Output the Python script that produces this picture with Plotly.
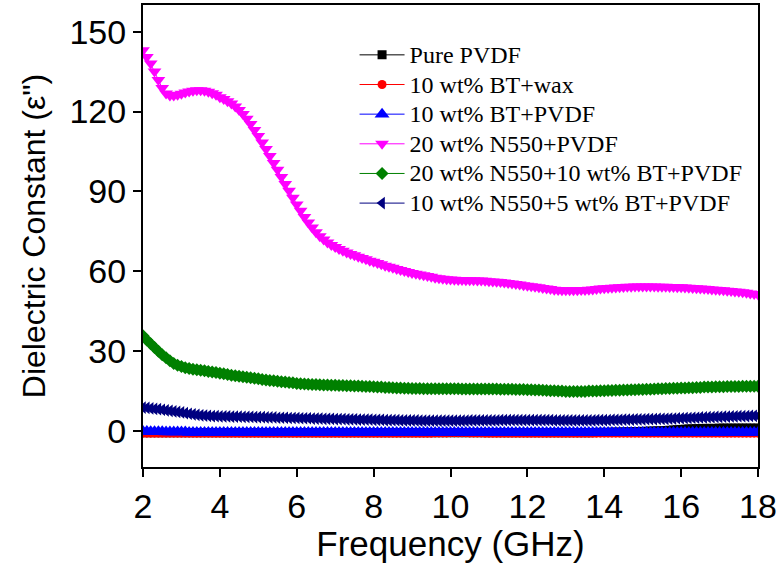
import numpy as np
import plotly.graph_objects as go

# Frequency grid (GHz), 0.1 GHz steps from 2 to 18
freq = np.round(np.arange(0, 161) * 0.1 + 2.0, 1)

series_names = [
    "Pure PVDF",
    "10 wt% BT+wax",
    "10 wt% BT+PVDF",
    "20 wt% N550+PVDF",
    "20 wt% N550+10 wt% BT+PVDF",
    "10 wt% N550+5 wt% BT+PVDF",
]

pure_pvdf = [
    -0.6, -0.6, -0.6, -0.6, -0.6, -0.6, -0.6, -0.6, -0.6, -0.6,
    -0.6, -0.6, -0.6, -0.6, -0.6, -0.6, -0.6, -0.6, -0.6, -0.6,
    -0.6, -0.6, -0.6, -0.6, -0.6, -0.6, -0.6, -0.6, -0.6, -0.6,
    -0.6, -0.6, -0.6, -0.6, -0.6, -0.6, -0.6, -0.6, -0.6, -0.6,
    -0.6, -0.6, -0.6, -0.6, -0.6, -0.6, -0.6, -0.6, -0.6, -0.6,
    -0.6, -0.6, -0.6, -0.6, -0.6, -0.6, -0.6, -0.6, -0.6, -0.6,
    -0.6, -0.6, -0.6, -0.6, -0.6, -0.6, -0.6, -0.6, -0.6, -0.6,
    -0.6, -0.6, -0.6, -0.6, -0.6, -0.6, -0.6, -0.6, -0.6, -0.6,
    -0.6, -0.6, -0.6, -0.6, -0.6, -0.6, -0.6, -0.6, -0.6, -0.6,
    -0.6, -0.6, -0.6, -0.6, -0.6, -0.6, -0.6, -0.6, -0.6, -0.6,
    -0.6, -0.6, -0.6, -0.6, -0.6, -0.6, -0.6, -0.6, -0.6, -0.6,
    -0.6, -0.6, -0.6, -0.6, -0.6, -0.6, -0.6, -0.6, -0.5, -0.5,
    -0.5, -0.5, -0.4, -0.4, -0.4, -0.3, -0.3, -0.3, -0.2, -0.2,
    -0.1, -0.1, 0.0, 0.0, 0.1, 0.1, 0.2, 0.3, 0.4, 0.5,
    0.6, 0.7, 0.8, 0.8, 0.9, 0.9, 1.0, 1.0, 1.0, 1.0,
    1.1, 1.1, 1.1, 1.1, 1.1, 1.1, 1.1, 1.1, 1.1, 1.1,
    1.1,
]

bt_wax = [
    -0.8, -0.8, -0.8, -0.8, -0.8, -0.8, -0.8, -0.8, -0.8, -0.8,
    -0.8, -0.8, -0.8, -0.8, -0.8, -0.8, -0.8, -0.8, -0.8, -0.8,
    -0.8, -0.8, -0.8, -0.8, -0.8, -0.8, -0.8, -0.8, -0.8, -0.8,
    -0.8, -0.8, -0.8, -0.8, -0.8, -0.8, -0.8, -0.8, -0.8, -0.8,
    -0.8, -0.8, -0.8, -0.8, -0.8, -0.8, -0.8, -0.8, -0.8, -0.8,
    -0.8, -0.8, -0.8, -0.8, -0.8, -0.8, -0.8, -0.8, -0.8, -0.8,
    -0.8, -0.8, -0.8, -0.8, -0.8, -0.8, -0.8, -0.8, -0.8, -0.8,
    -0.8, -0.8, -0.8, -0.8, -0.8, -0.8, -0.7, -0.7, -0.7, -0.7,
    -0.6, -0.6, -0.6, -0.6, -0.6, -0.7, -0.7, -0.7, -0.7, -0.8,
    -0.8, -0.8, -0.8, -0.8, -0.8, -0.8, -0.8, -0.8, -0.8, -0.8,
    -0.8, -0.8, -0.8, -0.8, -0.8, -0.8, -0.8, -0.8, -0.8, -0.8,
    -0.8, -0.8, -0.8, -0.8, -0.8, -0.8, -0.8, -0.8, -0.8, -0.8,
    -0.8, -0.8, -0.8, -0.8, -0.8, -0.8, -0.8, -0.8, -0.8, -0.8,
    -0.8, -0.8, -0.8, -0.8, -0.8, -0.8, -0.8, -0.8, -0.8, -0.8,
    -0.8, -0.8, -0.8, -0.8, -0.8, -0.8, -0.8, -0.8, -0.8, -0.8,
    -0.8, -0.8, -0.8, -0.8, -0.8, -0.8, -0.8, -0.8, -0.8, -0.8,
    -0.8,
]

bt_pvdf = [
    -0.2, -0.2, -0.3, -0.3, -0.3, -0.3, -0.4, -0.4, -0.4, -0.4,
    -0.4, -0.4, -0.5, -0.5, -0.5, -0.5, -0.5, -0.5, -0.5, -0.5,
    -0.5, -0.5, -0.5, -0.5, -0.5, -0.5, -0.5, -0.5, -0.5, -0.5,
    -0.5, -0.5, -0.5, -0.5, -0.5, -0.5, -0.5, -0.5, -0.5, -0.5,
    -0.5, -0.5, -0.5, -0.5, -0.5, -0.5, -0.5, -0.5, -0.5, -0.5,
    -0.5, -0.5, -0.5, -0.5, -0.5, -0.5, -0.5, -0.5, -0.5, -0.5,
    -0.5, -0.5, -0.5, -0.5, -0.5, -0.5, -0.5, -0.5, -0.5, -0.5,
    -0.5, -0.5, -0.5, -0.5, -0.5, -0.5, -0.5, -0.5, -0.5, -0.5,
    -0.5, -0.5, -0.5, -0.5, -0.5, -0.5, -0.5, -0.5, -0.5, -0.5,
    -0.5, -0.5, -0.5, -0.5, -0.5, -0.5, -0.5, -0.5, -0.5, -0.5,
    -0.5, -0.5, -0.5, -0.5, -0.5, -0.5, -0.5, -0.5, -0.5, -0.5,
    -0.5, -0.5, -0.5, -0.5, -0.5, -0.5, -0.5, -0.5, -0.5, -0.5,
    -0.5, -0.5, -0.5, -0.5, -0.5, -0.5, -0.5, -0.5, -0.5, -0.5,
    -0.5, -0.5, -0.5, -0.5, -0.5, -0.5, -0.5, -0.5, -0.5, -0.5,
    -0.5, -0.5, -0.5, -0.5, -0.5, -0.5, -0.5, -0.5, -0.5, -0.5,
    -0.5, -0.5, -0.5, -0.5, -0.5, -0.5, -0.5, -0.5, -0.5, -0.5,
    -0.5,
]

n550_pvdf = [
    143.0, 140.5, 138.0, 135.0, 131.8, 128.8, 126.8, 126.0, 126.0, 126.3,
    126.7, 127.1, 127.5, 127.8, 128.0, 128.0, 127.8, 127.4, 126.9, 126.3,
    125.4, 124.7, 123.9, 123.0, 121.9, 120.6, 119.1, 117.3, 115.3, 113.1,
    110.8, 108.4, 105.9, 103.3, 100.7, 98.1, 95.4, 92.8, 90.2, 87.6,
    85.1, 82.7, 80.4, 78.3, 76.4, 74.7, 73.2, 71.9, 70.8, 69.9,
    69.1, 68.4, 67.7, 67.1, 66.5, 66.0, 65.5, 65.0, 64.5, 64.0,
    63.6, 63.1, 62.6, 62.1, 61.7, 61.3, 60.9, 60.5, 60.1, 59.7,
    59.4, 59.1, 58.8, 58.5, 58.2, 57.9, 57.6, 57.4, 57.2, 57.0,
    56.9, 56.8, 56.7, 56.7, 56.6, 56.6, 56.6, 56.5, 56.5, 56.4,
    56.3, 56.2, 56.1, 56.0, 55.8, 55.6, 55.4, 55.2, 55.0, 54.8,
    54.6, 54.4, 54.2, 54.0, 53.7, 53.5, 53.3, 53.1, 53.0, 52.9,
    52.9, 52.9, 52.9, 52.9, 53.0, 53.0, 53.1, 53.2, 53.3, 53.5,
    53.6, 53.7, 53.8, 53.9, 54.0, 54.1, 54.2, 54.2, 54.3, 54.3,
    54.3, 54.3, 54.3, 54.3, 54.2, 54.2, 54.2, 54.1, 54.1, 54.0,
    54.0, 53.9, 53.8, 53.7, 53.6, 53.5, 53.4, 53.3, 53.2, 53.1,
    53.0, 52.9, 52.7, 52.6, 52.4, 52.3, 52.1, 51.9, 51.7, 51.5,
    51.3,
]

n550_bt_20_10 = [
    35.8, 34.2, 32.8, 31.4, 30.0, 28.7, 27.5, 26.4, 25.4, 24.7,
    24.2, 23.8, 23.5, 23.2, 23.0, 22.8, 22.6, 22.4, 22.2, 22.0,
    21.7, 21.5, 21.2, 21.0, 20.8, 20.6, 20.4, 20.2, 20.0, 19.8,
    19.6, 19.4, 19.2, 19.0, 18.9, 18.7, 18.5, 18.4, 18.2, 18.1,
    17.9, 17.8, 17.7, 17.6, 17.5, 17.5, 17.4, 17.3, 17.3, 17.2,
    17.2, 17.1, 17.1, 17.0, 17.0, 16.9, 16.9, 16.8, 16.7, 16.7,
    16.6, 16.5, 16.5, 16.4, 16.4, 16.3, 16.2, 16.2, 16.1, 16.1,
    16.0, 16.0, 16.0, 15.9, 15.9, 15.9, 15.9, 15.9, 15.9, 15.9,
    15.9, 15.9, 15.9, 15.8, 15.8, 15.8, 15.8, 15.8, 15.8, 15.8,
    15.8, 15.8, 15.8, 15.7, 15.7, 15.7, 15.7, 15.6, 15.6, 15.6,
    15.5, 15.5, 15.4, 15.4, 15.3, 15.2, 15.1, 15.1, 15.0, 15.0,
    14.9, 14.9, 14.9, 14.9, 14.9, 14.9, 15.0, 15.0, 15.0, 15.1,
    15.1, 15.2, 15.2, 15.3, 15.3, 15.4, 15.4, 15.5, 15.5, 15.6,
    15.6, 15.7, 15.7, 15.8, 15.9, 15.9, 16.0, 16.0, 16.1, 16.1,
    16.2, 16.2, 16.3, 16.3, 16.4, 16.4, 16.5, 16.5, 16.5, 16.6,
    16.6, 16.6, 16.7, 16.7, 16.7, 16.7, 16.8, 16.8, 16.8, 16.8,
    16.8,
]

n550_bt_10_5 = [
    8.8, 8.7, 8.5, 8.3, 8.2, 8.0, 7.8, 7.6, 7.4, 7.2,
    7.0, 6.7, 6.5, 6.3, 6.1, 5.9, 5.8, 5.7, 5.6, 5.6,
    5.5, 5.5, 5.5, 5.4, 5.4, 5.4, 5.3, 5.3, 5.3, 5.2,
    5.2, 5.2, 5.1, 5.1, 5.1, 5.0, 5.0, 5.0, 4.9, 4.9,
    4.9, 4.8, 4.8, 4.8, 4.7, 4.7, 4.7, 4.6, 4.6, 4.6,
    4.5, 4.5, 4.5, 4.4, 4.4, 4.4, 4.3, 4.3, 4.3, 4.3,
    4.2, 4.2, 4.2, 4.1, 4.1, 4.1, 4.1, 4.0, 4.0, 4.0,
    4.0, 4.0, 3.9, 3.9, 3.9, 3.9, 3.9, 3.9, 3.9, 3.9,
    3.9, 3.9, 3.9, 3.9, 3.9, 4.0, 4.0, 4.0, 4.0, 4.0,
    4.0, 4.0, 4.0, 4.1, 4.1, 4.1, 4.1, 4.1, 4.1, 4.1,
    4.1, 4.1, 4.1, 4.1, 4.1, 4.1, 4.1, 4.0, 4.0, 4.0,
    4.0, 4.0, 4.0, 4.0, 4.0, 4.0, 4.0, 4.0, 4.1, 4.1,
    4.1, 4.1, 4.2, 4.2, 4.2, 4.3, 4.3, 4.3, 4.4, 4.4,
    4.4, 4.5, 4.5, 4.5, 4.6, 4.6, 4.6, 4.7, 4.7, 4.8,
    4.8, 4.9, 4.9, 5.0, 5.0, 5.1, 5.1, 5.2, 5.2, 5.3,
    5.3, 5.4, 5.4, 5.5, 5.5, 5.6, 5.6, 5.6, 5.7, 5.7,
    5.7,
]

series_values = [pure_pvdf, bt_wax, bt_pvdf, n550_pvdf, n550_bt_20_10, n550_bt_10_5]
colors = ["#000000", "#FF0000", "#0000FF", "#FF00FF", "#008000", "#000080"]
symbols = ["square", "circle", "triangle-up", "triangle-down", "diamond", "triangle-left"]
sizes = [9, 9, 13, 12, 10, 11]

x_ticks = [2, 4, 6, 8, 10, 12, 14, 16, 18]
y_ticks = [0, 30, 60, 90, 120, 150]

fig = go.Figure()
for name, vals, c, s, sz in zip(series_names, series_values, colors, symbols, sizes):
    fig.add_trace(go.Scatter(
        x=freq, y=vals, name='<span style="font-size:24px">' + name + '</span>',
        mode="lines+markers",
        line=dict(color=c, width=1),
        marker=dict(symbol=s, size=sz, color=c, line=dict(width=0)),
    ))

sans = "Liberation Sans, Arial, sans-serif"
axis_font = dict(family=sans, size=34, color="black")
fig.update_layout(
    width=784, height=563,
    margin=dict(l=143, r=26, t=5, b=96),
    paper_bgcolor="white", plot_bgcolor="white",
    showlegend=True,
    legend=dict(
        x=0.344, y=0.935, xanchor="left", yanchor="top",
        font=dict(family="Liberation Serif, Times New Roman, serif", size=20.5, color="black"),
        bgcolor="rgba(0,0,0,0)", borderwidth=0, tracegroupgap=0,
        itemwidth=45,
    ),
    xaxis=dict(
        range=[2, 18], tickvals=x_ticks, ticktext=[str(v) for v in x_ticks],
        ticks="outside", ticklen=8, tickwidth=2, tickcolor="black",
        showline=True, linewidth=2, linecolor="black", mirror=True,
        showgrid=False, zeroline=False, tickfont=axis_font, automargin=False,
        title=dict(text="Frequency (GHz)", font=dict(family=sans, size=35, color="black"), standoff=1),
    ),
    yaxis=dict(
        range=[-13.5, 160], tickvals=y_ticks, ticktext=[str(v) for v in y_ticks],
        ticks="outside", ticklen=8, tickwidth=2, tickcolor="black",
        showline=True, linewidth=2, linecolor="black", mirror=True,
        showgrid=False, zeroline=False, tickfont=axis_font, automargin=False,
        title=dict(text="Dielectric Constant (ε\")", font=dict(family=sans, size=32, color="black"), standoff=14),
    ),
)

fig.write_html("out.html", config={"displayModeBar": False},
               post_script="document.body.style.margin='0';")
